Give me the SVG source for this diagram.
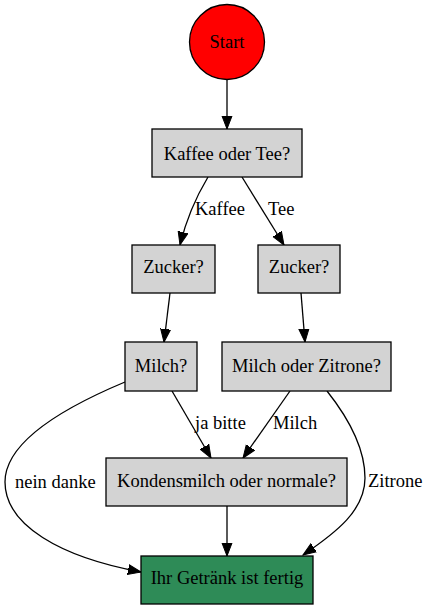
<svg xmlns="http://www.w3.org/2000/svg" width="425" height="609" viewBox="0 0 425 609">
<style>
  .box { fill: #d3d3d3; stroke: #000; stroke-width: 1.3; }
  .txt { font-family: 'Liberation Serif', 'Times New Roman', serif; font-size: 18.5px; fill: #000; }
  .c { text-anchor: middle; }
  .edge { fill: none; stroke: #000; stroke-width: 1.3; marker-end: url(#arrow); }
</style>
<defs>
  <marker id="arrow" markerUnits="userSpaceOnUse" markerWidth="14" markerHeight="12" refX="13" refY="5" orient="auto" viewBox="0 0 14 10">
    <polygon points="0,0 13,5 0,10" fill="#000" stroke="#000" stroke-width="1"/>
  </marker>
</defs>
<rect width="425" height="609" fill="#fff"/>
<g id="connectors">
  <path class="edge" d="M227,80 L227,129"/>
  <path class="edge" d="M208,177 C199,192 188,212 180,245"/>
  <path class="edge" d="M242,177 L284,245"/>
  <path class="edge" d="M170,293 L164,342"/>
  <path class="edge" d="M301,293 L305,342"/>
  <path class="edge" d="M172,391 L211,458"/>
  <path class="edge" d="M290,391 L243,458"/>
  <path class="edge" d="M227,506 L227,556"/>
  <path class="edge" d="M125,382 C70,405 5,440 5,482 C5,525 60,557 141,572"/>
  <path class="edge" d="M327,391 C350,420 365,450 365,478 C365,510 337,532 303,555"/>
</g>
<g id="edge-labels">
  <text class="txt" x="195" y="215">Kaffee</text>
  <text class="txt" x="268" y="215">Tee</text>
  <text class="txt" x="195" y="429">ja bitte</text>
  <text class="txt" x="273" y="429">Milch</text>
  <text class="txt" x="15" y="488">nein danke</text>
  <text class="txt" x="368" y="487">Zitrone</text>
</g>
<g id="start">
  <circle cx="227" cy="42" r="37.5" fill="#ff0000" stroke="#000" stroke-width="1.3"/>
  <text class="txt c" x="227" y="48">Start</text>
</g>
<g id="kaffee-oder-tee">
  <rect class="box" x="152" y="129" width="150" height="48"/>
  <text class="txt c" x="227" y="160">Kaffee oder Tee?</text>
</g>
<g id="zucker-kaffee">
  <rect class="box" x="132" y="245" width="83" height="48"/>
  <text class="txt c" x="173.5" y="273">Zucker?</text>
</g>
<g id="zucker-tee">
  <rect class="box" x="258" y="245" width="82" height="48"/>
  <text class="txt c" x="299" y="273">Zucker?</text>
</g>
<g id="milch">
  <rect class="box" x="125" y="342" width="72" height="49"/>
  <text class="txt c" x="161" y="372">Milch?</text>
</g>
<g id="milch-oder-zitrone">
  <rect class="box" x="222" y="342" width="169" height="49"/>
  <text class="txt c" x="306.5" y="372">Milch oder Zitrone?</text>
</g>
<g id="kondensmilch">
  <rect class="box" x="106" y="458" width="241" height="48"/>
  <text class="txt c" x="226.5" y="487">Kondensmilch oder normale?</text>
</g>
<g id="fertig">
  <rect x="141" y="556" width="172" height="48" fill="#2e8b57" stroke="#000" stroke-width="1.3"/>
  <text class="txt c" x="227" y="584">Ihr Getränk ist fertig</text>
</g>
</svg>
